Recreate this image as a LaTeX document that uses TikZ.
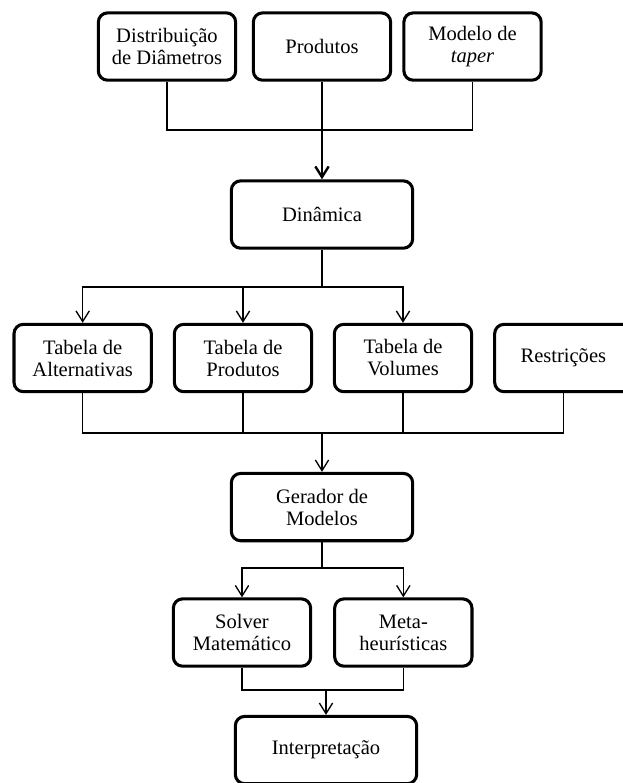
\documentclass[tikz,border=0pt]{standalone}
\usepackage{fontspec}
\setmainfont{Liberation Serif}
\usetikzlibrary{arrows.meta,positioning}
\tikzstyle{block} = [rectangle, draw, line width=2.3pt, rounded corners=7pt,
    minimum width=103pt, minimum height=50.5pt, align=center, inner sep=2pt,
    font=\fontsize{15.4}{16.5}\selectfont]
\tikzstyle{wblock} = [block, minimum width=136pt]
\tikzstyle{line} = [draw, line width=1pt]
\tikzstyle{arrow} = [line, -{Straight Barb[length=8pt,width=10pt]}]

\begin{document}
\begin{tikzpicture}[on grid]
  \useasboundingbox (0,0) rectangle (467.25pt,-587.25pt);

  \node[block]  (prod)                                    at (241.5pt,-34.9pt) {Produtos};
  \node[block]  (dist)   [left=116.25pt of prod]          {Distribuição\\de Diâmetros};
  \node[block]  (taper)  [right=112.9pt of prod]          {Modelo de\\\textit{taper}};
  \node[wblock] (din)    [below=126pt of prod]            {Dinâmica};
  \node[block]  (tabP)   [below left=107.6pt and 59.25pt of din]  {Tabela de\\Produtos};
  \node[block]  (tabV)   [below right=107.6pt and 60.75pt of din] {Tabela de\\Volumes};
  \node[block]  (tabA)   [left=120.25pt of tabP]          {Tabela de\\Alternativas};
  \node[block]  (restr)  [right=120.25pt of tabV]         {Restrições};
  \node[wblock] (ger)    [below=219.4pt of din]           {Gerador de\\Modelos};
  \node[block]  (solver) [below left=94.1pt and 60pt of ger]  {Solver\\Matemático};
  \node[block]  (meta)   [below right=94.1pt and 61pt of ger] {Meta-\\heurísticas};
  \node[wblock] (interp) [below=182.25pt of ger, xshift=3pt]  {Interpretação};

  % entradas
  \coordinate[below=62.6pt of prod] (j1);
  \path[line] (dist) |- (j1) -| (taper);
  \path[arrow, line width=1.8pt] (prod) -- (din);

  % tabelas
  \coordinate[below=54.4pt of din] (j2);
  \path[line] (din) -- (j2);
  \foreach \t in {tabA,tabP,tabV}
    \path[arrow] (j2) -| (\t);

  \coordinate[below=56.25pt of tabP] (j3);
  \path[line] (tabA) |- (j3) -| (restr);
  \path[line] (tabP) -- (j3);
  \path[line] (tabV) -- (tabV |- j3);
  \path[arrow] (j3 -| din) -- (ger);

  % resolucao
  \coordinate[below=45.75pt of ger] (j4);
  \path[line] (ger) -- (j4);
  \foreach \t in {solver,meta}
    \path[arrow] (j4) -| (\t);

  \coordinate[below=43.1pt of solver] (j5);
  \path[line] (solver) -- (j5) -| (meta);
  \path[arrow] (j5 -| interp) -- (interp);
\end{tikzpicture}
\end{document}
